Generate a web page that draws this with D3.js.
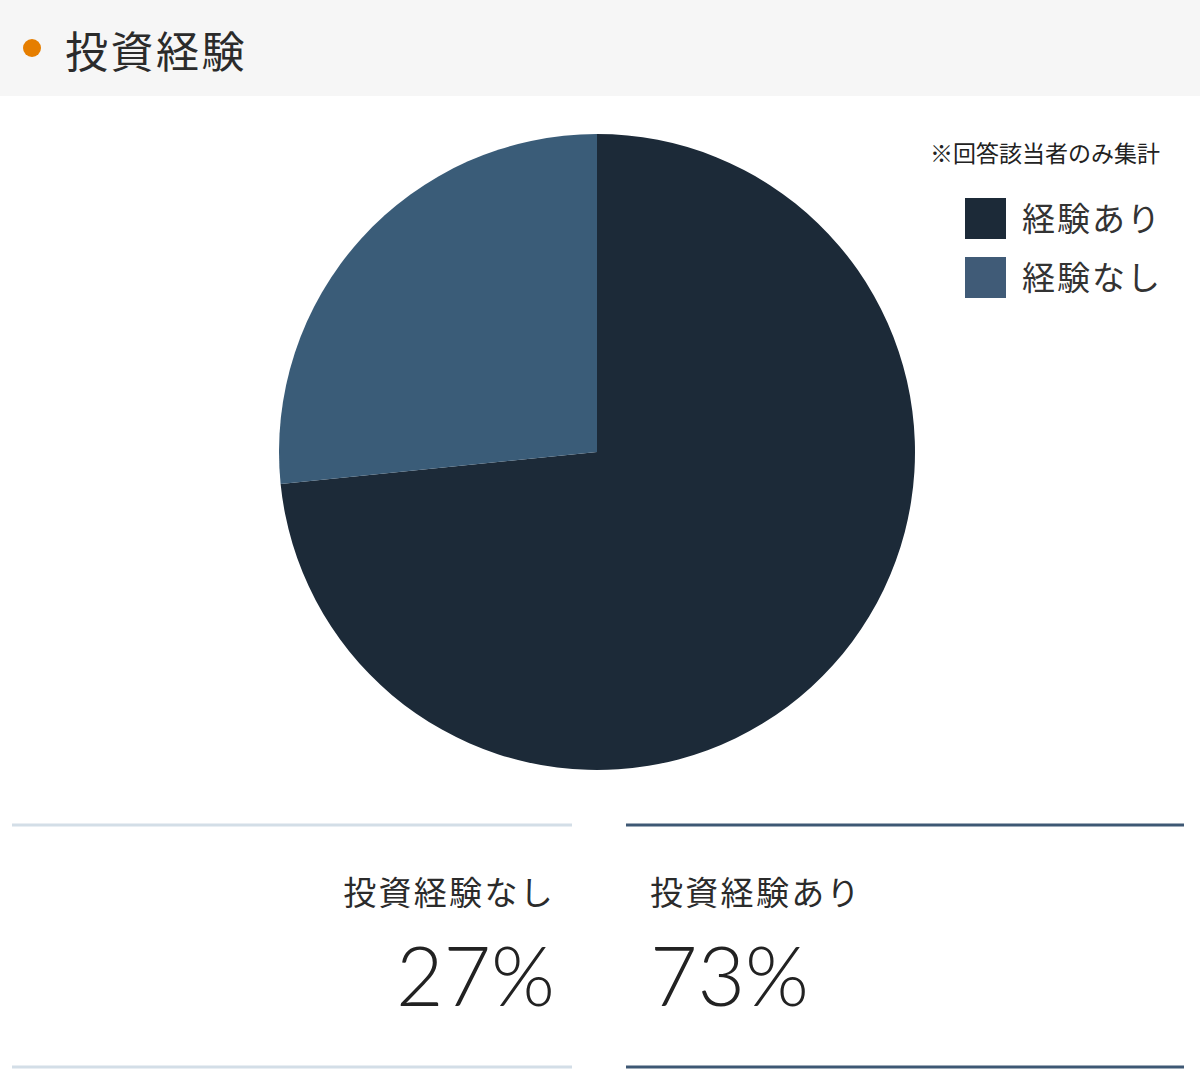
<!DOCTYPE html>
<html lang="ja">
<head>
<meta charset="utf-8">
<script src="https://cdn.jsdelivr.net/npm/d3@7"></script>
<style>
  html, body { margin: 0; padding: 0; background: #fff; }
  body { width: 1200px; height: 1090px; overflow: hidden; font-family: "Noto Sans CJK JP", "Noto Sans", sans-serif; }
</style>
</head>
<body>
<div id="chart"></div>
<script>
const title = "投資経験";
const note = "※回答該当者のみ集計";
const categories = ["経験あり", "経験なし"];
const values = [73.4, 26.6];
const colors = ["#1c2a38", "#3a5c78"];
const legendColors = ["#1c2a38", "#405b77"];
const statLabels = ["投資経験なし", "投資経験あり"];
const statValues = [27, 73];
const statLineColors = ["#d3dee7", "#3e5874"];

const width = 1200, height = 1090;

const svg = d3.select("#chart").append("svg")
  .attr("width", width)
  .attr("height", height);

// header band
svg.append("rect")
  .attr("x", 0).attr("y", 0)
  .attr("width", width).attr("height", 96)
  .attr("fill", "#f6f6f6");

svg.append("circle")
  .attr("cx", 32).attr("cy", 48).attr("r", 9)
  .attr("fill", "#e67e00");

svg.append("text")
  .attr("x", 65).attr("y", 68)
  .attr("font-size", 43)
  .attr("letter-spacing", 2.5)
  .attr("fill", "#2b2b2b")
  .text(title);

// pie
const cx = 597, cy = 452, radius = 318;
const pie = d3.pie().sort(null).value(d => d.value);
const arc = d3.arc().innerRadius(0).outerRadius(radius);
const pieData = categories.map((c, i) => ({ name: c, value: values[i], color: colors[i] }));

const g = svg.append("g").attr("transform", `translate(${cx},${cy})`);
g.selectAll("path")
  .data(pie(pieData))
  .join("path")
  .attr("d", arc)
  .attr("fill", d => d.data.color);

// note + legend
svg.append("text")
  .attr("x", 1160).attr("y", 162)
  .attr("text-anchor", "end")
  .attr("font-size", 23)
  .attr("fill", "#222")
  .text(note);

const legend = svg.append("g").attr("transform", "translate(965,198)");
const item = legend.selectAll("g")
  .data(categories)
  .join("g")
  .attr("transform", (d, i) => `translate(0,${i * 59})`);
item.append("rect")
  .attr("width", 41).attr("height", 41)
  .attr("fill", (d, i) => legendColors[i]);
item.append("text")
  .attr("x", 57).attr("y", 33)
  .attr("font-size", 33)
  .attr("letter-spacing", 2)
  .attr("fill", "#333")
  .text(d => d);

// bottom stats
const cols = [
  { x0: 12, x1: 572, anchor: "end", tx: 555 },
  { x0: 626, x1: 1184, anchor: "start", tx: 650 }
];
cols.forEach((c, i) => {
  [825, 1067].forEach(y => {
    svg.append("line")
      .attr("x1", c.x0).attr("x2", c.x1)
      .attr("y1", y).attr("y2", y)
      .attr("stroke", statLineColors[i])
      .attr("stroke-width", 3);
  });
  svg.append("text")
    .attr("x", c.tx).attr("y", 905)
    .attr("text-anchor", c.anchor)
    .attr("font-size", 33)
    .attr("letter-spacing", 2.3)
    .attr("fill", "#2b2b2b")
    .text(statLabels[i]);
  svg.append("text")
    .attr("x", c.tx).attr("y", 1006)
    .attr("text-anchor", c.anchor)
    .attr("font-size", 82)
    .attr("font-weight", 300)
    .attr("font-family", "Lato, 'Noto Sans', sans-serif")
    .attr("fill", "#222")
    .text(statValues[i] + "%");
});
</script>
</body>
</html>
